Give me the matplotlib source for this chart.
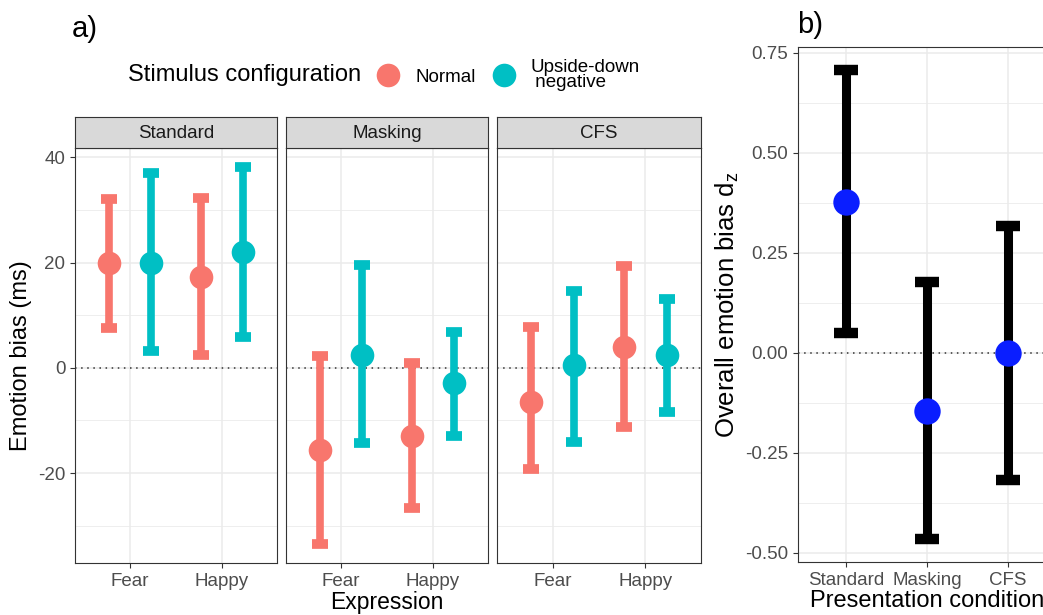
# Emotion bias by presentation condition, two panels in ggplot style
import matplotlib
matplotlib.use("Agg")
import matplotlib.pyplot as plt
from matplotlib.lines import Line2D
import numpy as np

plt.rcParams['font.family'] = ['Liberation Sans', 'DejaVu Sans']
plt.rcParams['mathtext.default'] = 'regular'

# panel a data: [condition][expression]
conditions = ["Standard", "Masking", "CFS"]
expressions = ["Fear", "Happy"]
configs = ["Normal", "Upside-down\n negative"]

normal_mean = [[19.9, 17.3], [-15.7, -13.0], [-6.4, 4.0]]
normal_lo = [[7.6, 2.5], [-33.5, -26.6], [-19.2, -11.2]]
normal_hi = [[32.1, 32.3], [2.2, 0.9], [7.8, 19.4]]

upside_mean = [[20.0, 22.0], [2.5, -2.9], [0.5, 2.4]]
upside_lo = [[3.2, 5.9], [-14.3, -12.9], [-14.1, -8.4]]
upside_hi = [[37.1, 38.2], [19.6, 6.9], [14.7, 13.0]]

# panel b data
b_conditions = ["Standard", "Masking", "CFS"]
b_mean = [0.377, -0.146, 0.0]
b_lo = [0.049, -0.464, -0.317]
b_hi = [0.706, 0.176, 0.318]

col_normal = "#F8766D"
col_upside = "#00BFC4"
grid_col = "#EBEBEB"
border_col = "#333333"
tick_col = "#4D4D4D"

W, H = 1043, 615
fig = plt.figure(figsize=(W / 100, H / 100), dpi=100)

def px_axes(x0, y0, x1, y1):
    # pixel box (top-left origin) -> figure axes
    return fig.add_axes([x0 / W, 1 - y1 / H, (x1 - x0) / W, (y1 - y0) / H])

def gg_style(ax):
    ax.set_facecolor("white")
    for s in ax.spines.values():
        s.set_color(border_col)
        s.set_linewidth(0.8)
    ax.grid(True, which="major", color=grid_col, linewidth=1.1)
    ax.grid(True, which="minor", axis="y", color=grid_col, linewidth=0.6)
    ax.set_axisbelow(True)
    ax.tick_params(which="major", colors=border_col, labelcolor=tick_col,
                   labelsize=13.5, length=3.5, width=0.8)
    ax.tick_params(which="minor", length=0)

def draw_bars(ax, x, mean, lo, hi, color, lw, cap, capthick, ms, pcolor=None):
    mean = np.asarray(mean)
    err = [mean - np.asarray(lo), np.asarray(hi) - mean]
    ax.errorbar(x, mean, yerr=err, fmt="none", ecolor=color,
                elinewidth=lw, capsize=cap, capthick=capthick, zorder=3)
    ax.plot(x, mean, "o", color=pcolor or color, ms=ms, mec="none", zorder=4)

# ---- panel a ----
facet_x = [(75, 277), (286, 488), (497, 701)]
dodge = 0.23
xpos = np.arange(1, len(expressions) + 1)
for i, cond in enumerate(conditions):
    x0, x1 = facet_x[i]
    ax = px_axes(x0, 148, x1, 563)
    gg_style(ax)
    ax.axhline(0, color="#333333", linestyle=(0, (1, 3)), linewidth=1.1, zorder=2)
    draw_bars(ax, xpos - dodge, normal_mean[i], normal_lo[i], normal_hi[i],
              col_normal, 5.5, 5.5, 7, 17)
    draw_bars(ax, xpos + dodge, upside_mean[i], upside_lo[i], upside_hi[i],
              col_upside, 5.5, 5.5, 7, 17)
    ax.set_xlim(0.4, 2.6)
    ax.set_ylim(-37.1, 41.8)
    ax.set_xticks(xpos)
    ax.set_xticklabels(expressions)
    ax.set_yticks([-20, 0, 20, 40])
    ax.set_yticks([-30, -10, 10, 30], minor=True)
    if i == 0:
        ax.set_yticklabels(["-20", "0", "20", "40"])
        ax.set_ylabel("Emotion bias (ms)", fontsize=17, labelpad=4)
    else:
        ax.tick_params(axis="y", which="both", left=False, labelleft=False)
    if i == 1:
        ax.set_xlabel("Expression", fontsize=16.5, labelpad=1)

    strip = px_axes(x0, 117, x1, 148)
    strip.set_facecolor("#D9D9D9")
    strip.set_xticks([])
    strip.set_yticks([])
    for s in strip.spines.values():
        s.set_color(border_col)
        s.set_linewidth(0.8)
    strip.text(0.5, 0.47, cond, ha="center", va="center", fontsize=13.5,
               color="#1A1A1A", transform=strip.transAxes)

fig.text(72 / W, 1 - 29 / H, "a)", fontsize=21, va="center", ha="left")

# legend
fig.text(128 / W, 1 - 75 / H, "Stimulus configuration", fontsize=17,
         va="center", ha="left")
handles = [Line2D([], [], marker="o", linestyle="none", color=col_normal,
                  ms=17, mec="none"),
           Line2D([], [], marker="o", linestyle="none", color=col_upside,
                  ms=17, mec="none")]
leg = fig.legend(handles, configs, loc="center left",
                 bbox_to_anchor=(377 / W, 1 - 75 / H), frameon=False, ncol=2,
                 fontsize=13.5, handlelength=1.2, handletextpad=0.83,
                 columnspacing=0.9, borderpad=0, borderaxespad=0)
for t in leg.get_texts():
    t.set_linespacing(0.9)

# ---- panel b ----
axb = px_axes(798, 47, 1056, 562)
gg_style(axb)
bx = np.arange(1, len(b_conditions) + 1)
axb.axhline(0, color="#333333", linestyle=(0, (1, 3)), linewidth=1.1, zorder=2)
draw_bars(axb, bx, b_mean, b_lo, b_hi, "black", 6.5, 8.5, 7.5, 19, pcolor="#0A1EFF")
axb.set_xlim(0.4, 3.6)
axb.set_ylim(-0.5225, 0.7645)
axb.set_xticks(bx)
axb.set_xticklabels(b_conditions)
axb.set_yticks([-0.5, -0.25, 0, 0.25, 0.5, 0.75])
axb.set_yticklabels(["-0.50", "-0.25", "0.00", "0.25", "0.50", "0.75"])
axb.set_yticks([-0.375, -0.125, 0.125, 0.375, 0.625], minor=True)
axb.set_ylabel("Overall emotion bias d$_z$", fontsize=18.5, labelpad=3)
axb.set_xlabel("Presentation condition", fontsize=17, labelpad=1)
fig.text(797 / W, 1 - 25 / H, "b)", fontsize=21, va="center", ha="left")

fig.savefig("out.png", dpi=100)
